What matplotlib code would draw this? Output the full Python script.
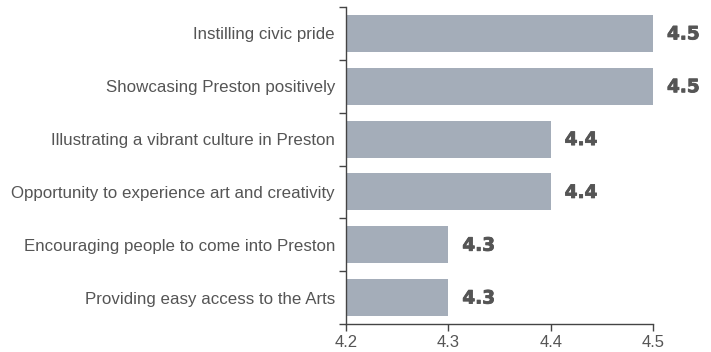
import matplotlib
matplotlib.use("Agg")
import matplotlib.pyplot as plt
import matplotlib.patheffects as pe
import numpy as np

plt.rcParams['font.family'] = ['Liberation Sans', 'DejaVu Sans']

categories = [
    "Instilling civic pride",
    "Showcasing Preston positively",
    "Illustrating a vibrant culture in Preston",
    "Opportunity to experience art and creativity",
    "Encouraging people to come into Preston",
    "Providing easy access to the Arts",
]
scores = [4.5, 4.5, 4.4, 4.4, 4.3, 4.3]
x_ticks = [4.2, 4.3, 4.4, 4.5]

bar_color = "#a4adb9"
text_color = "#555555"
axis_color = "#444444"

fig = plt.figure(figsize=(7.11, 3.52), dpi=100)
ax = fig.add_axes([346 / 711, 1 - 324 / 352, (653 - 346) / 711, (324 - 7) / 352])

y = np.arange(len(categories))
base = x_ticks[0]
ax.barh(y, [s - base for s in scores], left=base, height=0.7, color=bar_color)

heavy = [pe.withStroke(linewidth=0.6, foreground=text_color)]
for yi, s in zip(y, scores):
    ax.annotate(f"{s:.1f}", xy=(s, yi), xytext=(14, -1), textcoords="offset pixels",
                va="center", ha="left", fontsize=13.3, fontweight="bold",
                color=text_color, family="DejaVu Sans", path_effects=heavy)

ax.set_xlim(x_ticks[0], x_ticks[-1])
ax.set_ylim(len(categories) - 0.5, -0.5)
ax.set_xticks(x_ticks)
ax.set_xticklabels([f"{t:.1f}" for t in x_ticks])
ax.set_yticks(y)
ax.set_yticklabels(categories)
ax.set_yticks(np.arange(-0.5, len(categories), 1), minor=True)

for side in ("top", "right"):
    ax.spines[side].set_visible(False)
for side in ("left", "bottom"):
    ax.spines[side].set_color(axis_color)
    ax.spines[side].set_linewidth(1.0)

ax.tick_params(axis="y", which="major", length=0, pad=8, labelsize=12.2, labelcolor=text_color)
ax.tick_params(axis="y", which="minor", length=5, width=1.0, color=axis_color)
ax.tick_params(axis="x", which="major", length=5, width=1.0, color=axis_color,
               pad=3, labelsize=12, labelcolor=text_color)

fig.savefig("out.png", dpi=100)
